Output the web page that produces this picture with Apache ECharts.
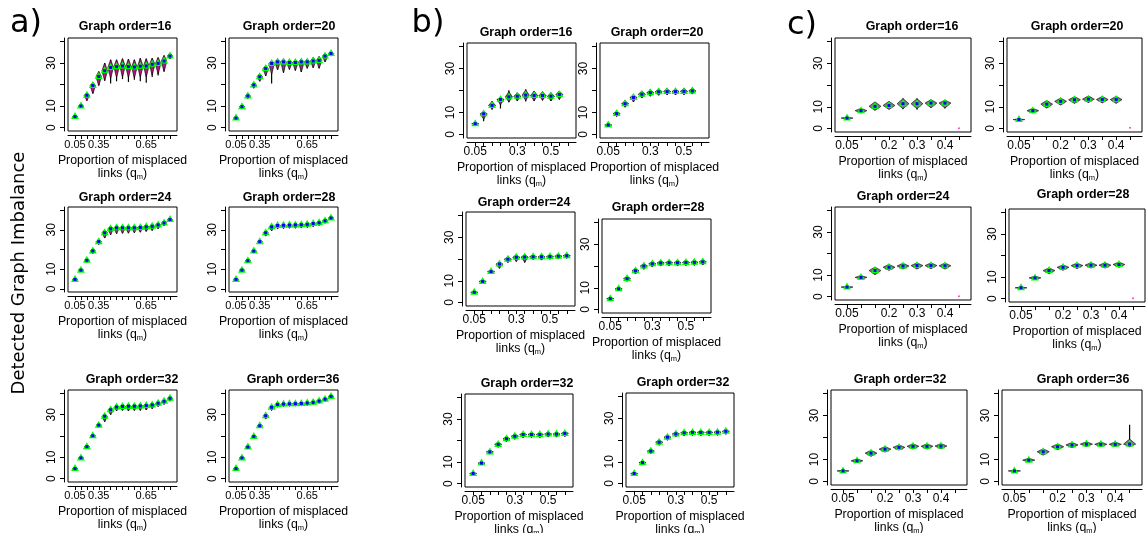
<!DOCTYPE html>
<html>
<head>
<meta charset="utf-8">
<script src="https://cdn.jsdelivr.net/npm/echarts@6.0.0/dist/echarts.min.js"></script>
<style>
  html, body { margin: 0; padding: 0; background: #fff; }
  #chart { width: 1148px; height: 533px; }
</style>
</head>
<body>
<div id="chart"></div>
<script>
  // tick labels (R drops the ones that would overlap)
  const aTicks = ['0.05','','','','0.35','','','','','','','','0.65','','','',''];
  const bTicks = ['0.05','','','','','0.3','','','','0.5','',''];
  const cTicks = ['0.05','','','0.2','','0.3','','0.4',''];
  const yTicks = [0, 10, 20, 30, 40];
  const yLabels = [0, 10, 30];

  // a) median, lower and upper extent of each violin
  const a16Mid = [5.1,10,15,19.5,23.7,26.4,27.9,28.3,28.6,28.3,28.1,28.5,28.6,29.4,29.8,30.9,33.2];
  const a16Lo  = [4.3,9.2,12.5,15.8,19.5,21.8,20.5,21.5,22.5,21.2,22.2,21.5,20.8,23.5,24.2,26,31.8];
  const a16Hi  = [5.9,10.8,16.2,21,26,30,31.5,31.5,32,31.8,31.5,32.2,32,32.2,32.5,33.5,34.6];
  const a20Mid = [4.4,9.7,14.7,19.8,23.6,27.4,29.8,30.5,30.5,30.2,30.2,30.5,30.5,30.9,31.2,33.2,34.4];
  const a20Lo  = [3.8,9,13.5,18.3,21.5,24,20.5,26.8,25.5,27,26.5,25.8,27.5,27.8,27.5,30.5,33.2];
  const a20Hi  = [5,10.4,15.5,20.8,25,28.8,31.2,31.8,31.8,31.6,31.6,31.8,31.8,32.5,33,34.5,35.5];
  const a24Mid = [4.8,9.5,14.5,19.3,24,28.5,30.5,31,31,31,31,31.2,31.5,31.8,32.5,33.5,35.2];
  const a24Lo  = [4,8.8,13.5,18,22.5,25.8,27.5,28,28.2,28.3,28.5,28.8,29.2,29.6,30.5,32,34.2];
  const a24Hi  = [5.6,10.2,15.4,20.4,25.2,30,32,32.2,32.2,32.3,32.3,32.5,32.8,33,33.6,34.6,36.2];
  const a28Mid = [4.8,9.5,14.3,19.2,24,28.5,31.5,32.2,32.3,32.4,32.5,32.6,32.8,33.2,33.6,34.6,36];
  const a28Lo  = [4.1,8.9,13.6,18.3,23,26.8,29.5,30.5,30.6,30.8,30.8,31,31.2,31.6,32.2,33.4,35.2];
  const a28Hi  = [5.5,10.1,15,20,25,29.5,32.5,33.2,33.2,33.3,33.4,33.5,33.7,34,34.4,35.4,36.8];
  const a32Mid = [4.7,9.7,15,20.1,25.1,29.3,32.3,33.6,33.9,34,34,34.1,34.3,34.6,35.4,36.3,37.7];
  const a32Lo  = [4,9,14.3,19.3,24.2,26.7,30,31.8,32,31.8,32,32,32.2,32.8,33.8,34.8,36.3];
  const a32Hi  = [5.4,10.4,15.7,20.8,26,30.4,33.3,34.6,34.8,34.9,35,35,35.2,35.5,36.2,37.1,38.6];
  const a36Mid = [4.7,9.7,14.8,19.8,24.8,29.5,33.5,34.8,35,35.1,35.2,35.3,35.5,35.8,36.4,37.3,38.6];
  const a36Lo  = [4.1,9.1,14.1,19.1,24,28,32,33.6,33.9,34,34.1,34.2,34.4,34.8,35.4,36.3,37.5];
  const a36Hi  = [5.3,10.3,15.5,20.5,25.6,30.5,34.4,35.6,35.8,35.9,36,36.1,36.3,36.6,37.2,38,39.3];

  // b)
  const b16Mid = [4.9,9.4,13.2,15.9,17.1,17.4,17.9,17.7,17.7,17.4,18.2];
  const b16Lo  = [4.3,6,11.4,11.8,14.7,15.2,15,15.2,15.5,15.2,15.9];
  const b16Hi  = [5.5,10.5,15.1,16.8,20.1,19,20.5,19.8,19.5,19,19.7];
  const b20Mid = [4.3,9.5,14,16.8,18.3,19,19.4,19.5,19.5,19.6,19.8];
  const b20Lo  = [3.6,8.2,12.4,14.8,16.6,17.4,17.8,18,18,18.1,18.4];
  const b20Hi  = [5,10.6,15.4,18.2,19.8,20.4,20.8,20.9,20.9,21,21.2];
  const b24Mid = [4.7,9.7,14.2,17.7,19.9,20.8,20.9,21,21,21.1,21.3,21.5];
  const b24Lo  = [4.1,8.9,13.2,15.7,18.4,18.8,18.4,19.8,19.5,19.9,20.1,20.3];
  const b24Hi  = [5.3,10.4,15,18.7,21.1,22,22.1,22,22,22.1,22.3,22.5];
  const b28Mid = [5,9.5,14.2,17.8,20,21,21.4,21.5,21.5,21.6,21.7,21.9];
  const b28Lo  = [4.4,8.6,13,16.4,18.5,19.6,20,20.1,20.1,20.2,20.3,20.5];
  const b28Hi  = [5.6,10.3,15.3,19,21.2,22.2,22.6,22.7,22.7,22.8,22.9,23.1];
  const b32Mid = [4.7,9.5,14.7,18.2,20.8,22,22.8,22.8,22.8,23,23,23.3];
  const b32Lo  = [4.1,8.8,13.7,16.9,19.5,20.6,21.3,21.4,21.4,21.6,21.6,21.9];
  const b32Hi  = [5.3,10.2,15.6,19.3,21.9,23.1,23.8,23.8,23.8,24,24,24.3];
  const b32bMid = [4.6,9.6,14.9,19,21.3,22.8,23.3,23.5,23.5,23.5,23.6,24];
  const b32bLo  = [4,8.9,13.8,17.6,19.9,21.4,21.9,22.1,22.1,22.1,22.2,22.6];
  const b32bHi  = [5.2,10.3,15.9,20.1,22.4,23.8,24.3,24.5,24.5,24.5,24.6,25];

  // c)
  const c16Mid = [4.8,8.2,10.2,10.6,11.4,11.4,11.7,11.7];
  const c16Lo  = [4.4,7.2,8.4,8.8,8.8,8.6,9.6,9.2];
  const c16Hi  = [5.2,9.2,12.2,12.4,13.9,13.9,13.2,13];
  const c20Mid = [4.1,8.2,11.2,12.5,13.2,13.5,13.3,13.3];
  const c20Lo  = [3.8,7.2,9.4,10.8,11.6,12,11.8,11.6];
  const c20Hi  = [4.4,9.2,12.8,13.9,14.6,14.9,14.7,14.7];
  const c24Mid = [4.4,8.9,12.1,13.6,14.2,14.4,14.4,14.3];
  const c24Lo  = [4.1,8.1,10.2,12.2,12.8,12.8,13,12.8];
  const c24Hi  = [4.7,9.7,13.6,14.9,15.4,15.6,15.6,15.5];
  const c28Mid = [5,9.6,13,14.5,15.3,15.5,15.5,15.8];
  const c28Lo  = [4.6,8.8,11.6,13.2,14,14.2,14.2,14.6];
  const c28Hi  = [5.4,10.4,14.2,15.6,16.4,16.6,16.6,16.9];
  const c32Mid = [4.8,9.4,12.9,14.7,15.5,16,16,16.1];
  const c32Lo  = [4.5,8.6,11.5,13.4,14.3,14.8,14.8,14.9];
  const c32Hi  = [5.1,10.2,14.1,15.8,16.6,17.1,17.1,17.2];
  const c36Mid = [4.8,9.7,13.5,15.8,16.6,17,16.9,16.9,17];
  const c36Lo  = [4.5,8.9,12,14.5,15.4,15.9,15.9,15.9,15.8];
  const c36Hi  = [5.1,10.5,14.8,17,17.7,18,17.9,17.9,25.8];
  // stray points at the last, empty position (orders 16, 20, 24, 28)
  const cStray = [0.1, 0.4, 0.1, 0.2];

  const FONT = '"Liberation Sans", Arial, sans-serif';

  // violin look per figure: max body reach (data units), taper power, width, tick font
  const aLook = {cap: 5,   pow: 0.9, wid: 0.45, tickSize: 11};
  const bLook = {cap: 2.5, pow: 1.1, wid: 0.42, tickSize: 12};
  const cLook = {cap: 2.2, pow: 0.9, wid: 0.42, tickSize: 12};

  // layout: box = [left, top, right, bottom] of each plot frame
  const panels = [
    {title:'Graph order=16', box:[68,38,177,131],  tx:125, ty:27,  ticks:aTicks, look:aLook, fill:'#b0187a', mid:a16Mid, lo:a16Lo, hi:a16Hi},
    {title:'Graph order=20', box:[229,38,338,131], tx:289, ty:27,  ticks:aTicks, look:aLook, fill:'#8e3580', mid:a20Mid, lo:a20Lo, hi:a20Hi},
    {title:'Graph order=24', box:[68,207,177,292], tx:125, ty:198, ticks:aTicks, look:aLook, fill:'#a02a7a', mid:a24Mid, lo:a24Lo, hi:a24Hi},
    {title:'Graph order=28', box:[229,207,338,292],tx:289, ty:198, ticks:aTicks, look:aLook, fill:'#8e3580', mid:a28Mid, lo:a28Lo, hi:a28Hi},
    {title:'Graph order=32', box:[68,390,177,482], tx:132, ty:380, ticks:aTicks, look:aLook, fill:'#7a3a6e', mid:a32Mid, lo:a32Lo, hi:a32Hi},
    {title:'Graph order=36', box:[229,390,338,482],tx:293, ty:380, ticks:aTicks, look:aLook, fill:'#7a3a6e', mid:a36Mid, lo:a36Lo, hi:a36Hi},

    {title:'Graph order=16', box:[467,43,576,138], tx:526, ty:33,  ticks:bTicks, look:bLook, fill:'#6a3a6a', mid:b16Mid, lo:b16Lo, hi:b16Hi},
    {title:'Graph order=20', box:[600,43,709,138], tx:657, ty:33,  ticks:bTicks, look:bLook, fill:'#6a3a6a', mid:b20Mid, lo:b20Lo, hi:b20Hi},
    {title:'Graph order=24', box:[466,212,575,306],tx:524, ty:203, ticks:bTicks, look:bLook, fill:'#6a3a6a', mid:b24Mid, lo:b24Lo, hi:b24Hi},
    {title:'Graph order=28', box:[602,219,711,313],tx:658, ty:208, ticks:bTicks, look:bLook, fill:'#6a3a6a', mid:b28Mid, lo:b28Lo, hi:b28Hi},
    {title:'Graph order=32', box:[465,394,573,487],tx:527, ty:384, ticks:bTicks, look:bLook, fill:'#5a4a5a', mid:b32Mid, lo:b32Lo, hi:b32Hi},
    {title:'Graph order=32', box:[626,393,734,487],tx:683, ty:383, ticks:bTicks, look:bLook, fill:'#5a4a5a', mid:b32bMid, lo:b32bLo, hi:b32bHi},

    {title:'Graph order=16', box:[835,38,971,132],  tx:912,  ty:27,  ticks:cTicks, look:cLook, fill:'#808080', mid:c16Mid, lo:c16Lo, hi:c16Hi, stray:cStray[0]},
    {title:'Graph order=20', box:[1007,38,1142,132],tx:1077, ty:27,  ticks:cTicks, look:cLook, fill:'#808080', mid:c20Mid, lo:c20Lo, hi:c20Hi, stray:cStray[1]},
    {title:'Graph order=24', box:[835,207,971,300], tx:903,  ty:197, ticks:cTicks, look:cLook, fill:'#808080', mid:c24Mid, lo:c24Lo, hi:c24Hi, stray:cStray[2]},
    {title:'Graph order=28', box:[1009,209,1145,302],tx:1083,ty:195, ticks:cTicks, look:cLook, fill:'#808080', mid:c28Mid, lo:c28Lo, hi:c28Hi, stray:cStray[3]},
    {title:'Graph order=32', box:[831,390,967,485], tx:900,  ty:380, ticks:cTicks, look:cLook, fill:'#808080', mid:c32Mid, lo:c32Lo, hi:c32Hi},
    {title:'Graph order=36', box:[1002,390,1142,485],tx:1083,ty:380, ticks:cTicks, look:cLook, fill:'#808080', mid:c36Mid, lo:c36Lo, hi:c36Hi}
  ];

  // violin: black range line lo..hi, filled body tapering away from the median
  function violinItem(fill, look) {
    return function (params, api) {
      const x = api.value(0), mid = api.value(1), lo = api.value(2), hi = api.value(3);
      const bLo = Math.max(lo, mid - look.cap), bHi = Math.min(hi, mid + look.cap);
      const half = api.size([1, 0])[0] * look.wid;
      const right = [], left = [];
      const N = 24;
      for (let i = 0; i <= N; i++) {
        const s = -1 + 2 * i / N;
        const v = s < 0 ? mid + s * (mid - bLo) : mid + s * (bHi - mid);
        const p = api.coord([x, v]);
        const w = half * Math.pow(1 - Math.abs(s), look.pow);
        right.push([p[0] + w, p[1]]);
        left.unshift([p[0] - w, p[1]]);
      }
      const top = api.coord([x, hi]), bot = api.coord([x, lo]);
      return {
        type: 'group',
        children: [
          {type: 'line', shape: {x1: top[0], y1: top[1], x2: bot[0], y2: bot[1]},
           style: {stroke: '#000', lineWidth: 1.2}},
          {type: 'polygon', shape: {points: right.concat(left)},
           style: {fill: fill, stroke: '#000', lineWidth: 0.7}}
        ]
      };
    };
  }

  const grid = [], xAxis = [], yAxis = [], series = [], graphic = [];

  panels.forEach(function (p, i) {
    const l = p.box[0], t = p.box[1], r = p.box[2], b = p.box[3];
    const n = p.ticks.length;
    const tickIdx = p.ticks.map(function (s, k) { return k; });
    const labelIdx = tickIdx.filter(function (k) { return p.ticks[k] !== ''; });

    grid.push({
      left: l, top: t, width: r - l, height: b - t,
      show: true, borderColor: '#000', borderWidth: 1, backgroundColor: 'transparent',
      containLabel: false, outerBoundsMode: 'none'
    });

    xAxis.push({
      gridIndex: i, type: 'value',
      min: -0.5 - 0.04 * n, max: n - 0.5 + 0.04 * n,
      offset: 4,
      axisLine: {show: true, onZero: false, lineStyle: {color: '#000', width: 1}},
      axisTick: {show: true, length: 4, customValues: tickIdx, lineStyle: {color: '#000'}},
      axisLabel: {
        customValues: labelIdx, margin: 4, color: '#000', fontSize: p.look.tickSize, fontFamily: FONT,
        formatter: function (v) { return p.ticks[Math.round(v)]; }
      },
      splitLine: {show: false},
      name: 'Proportion of misplaced\nlinks (q{s|m})',
      nameLocation: 'middle', nameGap: 19,
      nameTextStyle: {
        color: '#000', fontSize: 12.3, fontFamily: FONT, lineHeight: 13,
        rich: {s: {fontSize: 7.5, fontFamily: FONT, color: '#000', padding: [6, 0, 0, 0]}}
      }
    });

    yAxis.push({
      gridIndex: i, type: 'value', min: -1.6, max: 41.6,
      offset: 4,
      axisLine: {show: true, onZero: false, lineStyle: {color: '#000', width: 1}},
      axisTick: {show: true, length: 4, customValues: yTicks, lineStyle: {color: '#000'}},
      axisLabel: {customValues: yLabels, rotate: 90, margin: 6, color: '#000', fontSize: 12, fontFamily: FONT},
      splitLine: {show: false}
    });

    series.push({
      type: 'custom', xAxisIndex: i, yAxisIndex: i, silent: true, z: 2,
      renderItem: violinItem(p.fill, p.look),
      encode: {x: 0, y: 1},
      data: p.mid.map(function (m, k) { return [k, m, p.lo[k], p.hi[k]]; })
    });
    series.push({
      type: 'scatter', xAxisIndex: i, yAxisIndex: i, silent: true, z: 3,
      symbol: 'triangle', symbolSize: [8, 7], symbolOffset: [0, -1],
      itemStyle: {color: '#00ff00', borderWidth: 0, opacity: 1},
      data: p.mid.map(function (m, k) { return [k, m]; })
    });
    series.push({
      type: 'scatter', xAxisIndex: i, yAxisIndex: i, silent: true, z: 4,
      symbol: 'rect', symbolSize: 3,
      itemStyle: {color: '#0000ff', borderWidth: 0, opacity: 1},
      data: p.mid.map(function (m, k) { return [k, m]; })
    });
    if (p.stray != null) {
      series.push({
        type: 'scatter', xAxisIndex: i, yAxisIndex: i, silent: true, z: 4,
        symbol: 'circle', symbolSize: 2,
        itemStyle: {color: '#ff40c0', opacity: 1},
        data: [[n - 1, p.stray]]
      });
    }

    graphic.push({
      type: 'text', x: p.tx, y: p.ty, silent: true,
      style: {text: p.title, font: 'bold 12.4px ' + FONT, fill: '#000',
              textAlign: 'center', textVerticalAlign: 'middle', align: 'center', verticalAlign: 'middle'}
    });
  });

  // panel letters and the shared y axis title
  [['a)', 26, 24], ['b)', 428, 24], ['c)', 802, 26]].forEach(function (g) {
    graphic.push({
      type: 'text', x: g[1], y: g[2], silent: true,
      style: {text: g[0], font: '32px "DejaVu Sans"', fill: '#000',
              textAlign: 'center', textVerticalAlign: 'middle', align: 'center', verticalAlign: 'middle'}
    });
  });
  graphic.push({
    type: 'text', x: 19, y: 273, rotation: Math.PI / 2, silent: true,
    style: {text: 'Detected Graph Imbalance', font: '18px "DejaVu Sans"', fill: '#000',
            textAlign: 'center', textVerticalAlign: 'middle', align: 'center', verticalAlign: 'middle'}
  });

  const chart = echarts.init(document.getElementById('chart'), null, {renderer: 'canvas'});
  chart.setOption({
    animation: false,
    backgroundColor: '#fff',
    grid: grid,
    xAxis: xAxis,
    yAxis: yAxis,
    series: series,
    graphic: graphic
  });
</script>
</body>
</html>
